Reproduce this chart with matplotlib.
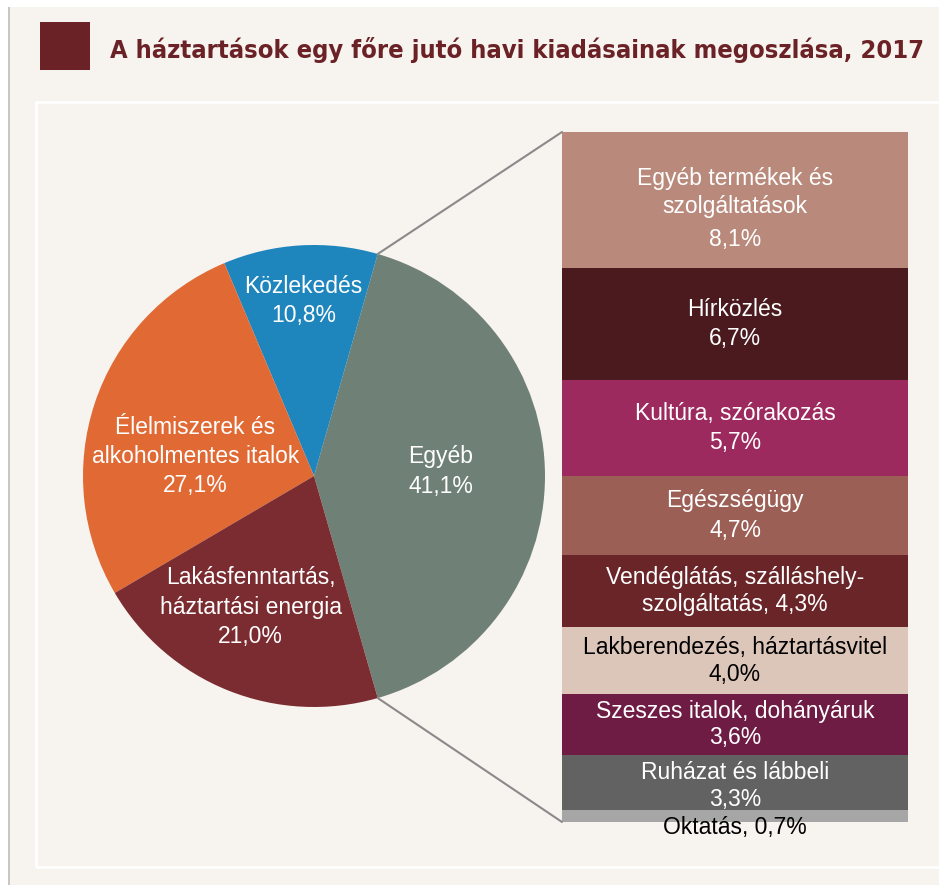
import matplotlib
matplotlib.use("Agg")
import matplotlib.pyplot as plt
from matplotlib.patches import Rectangle, ConnectionPatch
import numpy as np

# adatok
pie_labels = ["Egyéb", "Közlekedés", "Élelmiszerek és\nalkoholmentes italok",
              "Lakásfenntartás,\nháztartási energia"]
pie_values = [41.1, 10.8, 27.1, 21.0]
pie_colors = ["#6f8176", "#1f86bd", "#e06934", "#7b2c31"]

bar_labels = ["Oktatás", "Ruházat és lábbeli", "Szeszes italok, dohányáruk",
              "Lakberendezés, háztartásvitel", "Vendéglátás, szálláshely-\nszolgáltatás",
              "Egészségügy", "Kultúra, szórakozás", "Hírközlés",
              "Egyéb termékek és\nszolgáltatások"]
bar_values = [0.7, 3.3, 3.6, 4.0, 4.3, 4.7, 5.7, 6.7, 8.1]
bar_colors = ["#a6a6a6", "#626262", "#6f1c45", "#dcc5b9", "#6a2529",
              "#9b5f55", "#9d2a5f", "#4a1a1e", "#b98a7c"]

title = "A háztartások egy főre jutó havi kiadásainak megoszlása, 2017"

W, H = 939, 885
BG = "#f7f3ef"
DARK = "#6b2227"
FONT = ["Liberation Sans", "DejaVu Sans"]
FS = 16.5

fig = plt.figure(figsize=(W / 100, H / 100), dpi=100)
fig.patch.set_facecolor("white")


def box(x0, y0, x1, y1):
    # pixel coords (from top-left) -> figure fraction rect
    return [x0 / W, 1 - y1 / H, (x1 - x0) / W, (y1 - y0) / H]


# háttér, keret
for r in [Rectangle((8 / W, 0), 2 / W, 1 - 7 / H, facecolor="#c9c6c4", edgecolor="none"),
          Rectangle((10 / W, 0), 1, 1 - 7 / H, facecolor=BG, edgecolor="none"),
          Rectangle((36 / W, 1 - 867 / H), 1, (867 - 102) / H, facecolor="none",
                    edgecolor="white", lw=2),
          Rectangle((40 / W, 1 - 70 / H), 50 / W, 48 / H, facecolor=DARK, edgecolor="none")]:
    r.set_transform(fig.transFigure)
    r.set_zorder(-10)
    fig.patches.append(r)

t = fig.text(110 / W, 1 - 58 / H, title, family="DejaVu Sans", fontstretch="condensed",
             fontweight="bold", color=DARK, fontsize=26, va="baseline", ha="left")
fig.canvas.draw()
tw = t.get_window_extent().width
t.set_fontsize(26 * 815 / tw)

# kördiagram
ax1 = fig.add_axes(box(83, 245, 545, 707))
half = pie_values[0] * 3.6 / 2
wedges, _ = ax1.pie(pie_values, colors=pie_colors, startangle=-half,
                    counterclock=True, radius=1, wedgeprops=dict(linewidth=0))
ax1.set_xlim(-1, 1)
ax1.set_ylim(-1, 1)
ax1.set_aspect("equal")
ax1.axis("off")

pie_pct = ["41,1%", "10,8%", "27,1%", "21,0%"]
label_r = [0.55, 0.76, 0.52, 0.63]
label_shift = [2, 0, 9, -4]
for w, lab, pct, r, sh in zip(wedges, pie_labels, pie_pct, label_r, label_shift):
    ang = np.deg2rad((w.theta1 + w.theta2) / 2 + sh)
    ax1.text(r * np.cos(ang), r * np.sin(ang), lab + "\n" + pct, ha="center",
             va="center", color="white", fontsize=FS, family=FONT, linespacing=1.35)

# oszlop
ax2 = fig.add_axes(box(562, 132, 908, 822))
bottom = 0
for v, c in zip(bar_values, bar_colors):
    ax2.bar(0.5, v, width=1, bottom=bottom, color=c, linewidth=0)
    bottom += v
ax2.set_xlim(0, 1)
ax2.set_ylim(0, sum(bar_values))
ax2.axis("off")

bottom = 0
for lab, v in zip(bar_labels, bar_values):
    pct = f"{v:.1f}%".replace(".", ",")
    col = "black" if lab in ("Oktatás", "Lakberendezés, háztartásvitel") else "white"
    ls = 1.35 if v > 4.5 else 1.2
    y = bottom + v / 2
    if lab == "Oktatás":
        txt, y = lab + ", " + pct, bottom - 0.3
    elif lab.startswith("Vendéglátás"):
        txt = lab + ", " + pct
    else:
        txt = lab + "\n" + pct
    if lab.startswith("Ruházat"):
        y -= 0.2
    if lab == bar_labels[-1]:
        # a százalék kicsit lejjebb
        ax2.text(0.5, y + 0.45, lab, ha="center", va="center", color=col, fontsize=FS,
                 family=FONT, linespacing=1.25)
        ax2.text(0.5, y - 2.35, pct, ha="center", va="center", color=col, fontsize=FS,
                 family=FONT)
    else:
        ax2.text(0.5, y, txt, ha="center", va="center", color=col, fontsize=FS,
                 family=FONT, linespacing=ls, clip_on=False)
    bottom += v

# összekötő vonalak
top_ang = np.deg2rad(half)
for sgn, yb in ((1, sum(bar_values)), (-1, 0)):
    con = ConnectionPatch(xyA=(np.cos(top_ang), sgn * np.sin(top_ang)), coordsA=ax1.transData,
                          xyB=(0, yb), coordsB=ax2.transData, color="#8a8a8a", lw=1.5)
    fig.add_artist(con)

fig.savefig("out.png", dpi=100, facecolor=fig.get_facecolor())
